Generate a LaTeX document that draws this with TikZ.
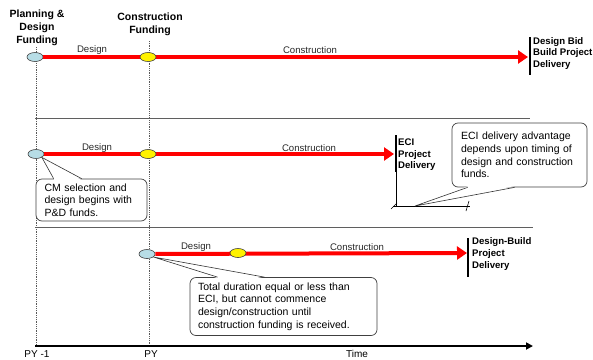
\documentclass[tikz,border=0pt]{standalone}
\usepackage{fontspec}
\setmainfont{Liberation Sans}
\usetikzlibrary{arrows.meta,shapes.geometric,calc}
\definecolor{lblue}{RGB}{183,221,230}
\definecolor{sepgray}{RGB}{95,95,95}
\definecolor{txtgray}{RGB}{40,40,40}
\begin{document}
\begin{tikzpicture}[x=1pt,y=-1pt,
  milestone/.style={ellipse, draw=black!75, line width=0.6pt, minimum width=16pt, minimum height=9pt, inner sep=0pt},
  pdfund/.style={milestone, fill=lblue},
  cfund/.style={milestone, fill=yellow},
  phase/.style={draw=red, line width=4pt, -{Triangle[length=10pt,width=13pt]}},
  endbar/.style={draw=black, line width=1.4pt},
  guide/.style={draw=black!65, densely dotted, line width=0.8pt},
  separator/.style={draw=sepgray, line width=1pt},
  plabel/.style={font=\fontsize{9.6}{11}\selectfont, text=txtgray, inner sep=0pt},
  toplabel/.style={font=\bfseries\fontsize{10.5}{13}\selectfont, align=center, inner sep=0pt},
  barlabel/.style={font=\bfseries\fontsize{9.6}{11.6}\selectfont, align=left, anchor=west, inner sep=0pt},
  callout/.style={draw=black!75, line width=0.7pt, rounded corners=6pt, fill=white, align=left,
    font=\fontsize{10.5}{12.7}\selectfont, inner sep=0pt},
  pointer/.style={draw=black!80, line width=0.6pt},
  axislabel/.style={font=\fontsize{10}{12}\selectfont, inner sep=0pt},
  thin/.style={draw=black, line width=0.6pt}
]
\useasboundingbox (0,0) rectangle (593,359);

% top labels
\node[toplabel] (pdlab) at (37,28) {Planning \&\\Design\\Funding};
\node[toplabel] (cflab) at (150,24.5) {Construction\\Funding};

% guides and axis
\coordinate (g1top) at (36,47);
\coordinate (g2top) at (149,41);
\coordinate (ax0) at (35,346);
\coordinate (ax1) at (533,346);
\coordinate (g1bot) at (36,346);
\coordinate (g2bot) at (149,346);
\draw[guide] (g1top) -- (g1bot);
\draw[guide] (g2top) -- (g2bot);

% separators
\coordinate (s1a) at (35,118); \coordinate (s1b) at (530,118);
\coordinate (s2a) at (35,227); \coordinate (s2b) at (533,227);
\draw[separator] (s1a) -- (s1b);
\draw[separator] (s2a) -- (s2b);

% ---------- Row 1 ----------
\coordinate (t1) at (528,57);
\coordinate (b1a) at (530,37); \coordinate (b1b) at (530,75);
\node[pdfund] (pd1) at (35,57) {};
\draw[phase] (pd1) -- (t1);
\node[cfund] (cf1) at (148,57) {};
\draw[endbar] (b1a) -- (b1b);
\node[barlabel] (d1) at (533,53.5) {Design Bid\\Build Project\\Delivery};
\node[plabel] (des1) at (92,50) {Design};
\node[plabel] (con1) at (310,50) {Construction};

% ---------- Row 2 ----------
\coordinate (t2) at (394,154);
\coordinate (b2a) at (396,135); \coordinate (b2b) at (396,172);
\node[pdfund] (pd2) at (36,154) {};
\draw[phase] (pd2) -- (t2);
\node[cfund] (cf2) at (148,154) {};
\draw[endbar] (b2a) -- (b2b);
\node[barlabel] (d2) at (398,155) {ECI\\Project\\Delivery};
\node[plabel] (des2) at (97,148) {Design};
\node[plabel] (con2) at (309,148) {Construction};

% leftover bracket under ECI
\coordinate (lc) at (396,206);
\coordinate (ll) at (393,206);
\coordinate (lr) at (470,206);
\coordinate (ptip) at (415,206);
\draw[thin] (b2b) -- (lc);
\draw[thin] (ll) -- (lr);
\draw[thin] ($(ll)+(-2,3)$) -- ($(ll)+(4,-3)$);
\draw[thin] ($(lr)+(-4,5)$) -- ($(lr)+(-1,-5)$);

% CM callout
\node[callout, minimum width=111pt, minimum height=42pt, text width=94pt] (cm) at (91.5,200)
  {CM selection and\\design begins with\\P\&D funds.};
\coordinate (cmA) at ($(cm.north west)+(18,0)$);
\coordinate (cmB) at ($(cm.north west)+(46,0)$);
\fill[white] (pd2.-30) -- ($(cmA)+(0.6,1.2)$) -- ($(cmB)+(-0.6,1.2)$) -- cycle;
\draw[pointer] (cmA) -- (pd2.-30) -- (cmB);

% ECI callout
\node[callout, minimum width=135pt, minimum height=64pt, text width=117pt] (eci) at (519.5,155)
  {ECI delivery advantage\\depends upon timing of\\design and construction\\funds.};
\coordinate (eA) at ($(eci.south west)+(16,0)$);
\coordinate (eB) at ($(eci.south west)+(63,0)$);
\fill[white] (ptip) -- ($(eA)+(0.6,-1.2)$) -- ($(eB)+(-0.6,-1.2)$) -- cycle;
\draw[pointer] (eA) -- (ptip) -- (eB);

% ---------- Row 3 ----------
\coordinate (t3) at (467,253);
\coordinate (b3a) at (468,238); \coordinate (b3b) at (468,277);
\node[pdfund] (pd3) at (147,254) {};
\draw[phase] (pd3) -- (t3);
\node[cfund] (cf3) at (238,253) {};
\draw[endbar] (b3a) -- (b3b);
\node[barlabel] (d3) at (472,254) {Design-Build\\Project\\Delivery};
\node[plabel] (des3) at (196,247) {Design};
\node[plabel] (con3) at (357,247) {Construction};

% DB callout
\node[callout, minimum width=187pt, minimum height=58pt, text width=171pt] (db) at (283.5,306.5)
  {Total duration equal or less than\\ECI, but cannot commence\\design/construction until\\construction funding is received.};
\coordinate (dA) at ($(db.north west)+(28,0)$);
\coordinate (dB) at ($(db.north west)+(75,0)$);
\fill[white] (pd3.-25) -- ($(dA)+(0.6,1.2)$) -- ($(dB)+(-0.6,1.2)$) -- cycle;
\draw[pointer] (dA) -- (pd3.-25) -- (dB);

% time axis
\draw[draw=black, line width=1.8pt, -{Triangle[length=7pt,width=7pt]}] (ax0) -- (ax1);
\node[axislabel] (py0) at (37,354) {PY -1};
\node[axislabel] (py1) at (151,354) {PY};
\node[axislabel] (time) at (357,354) {Time};
\end{tikzpicture}
\end{document}
